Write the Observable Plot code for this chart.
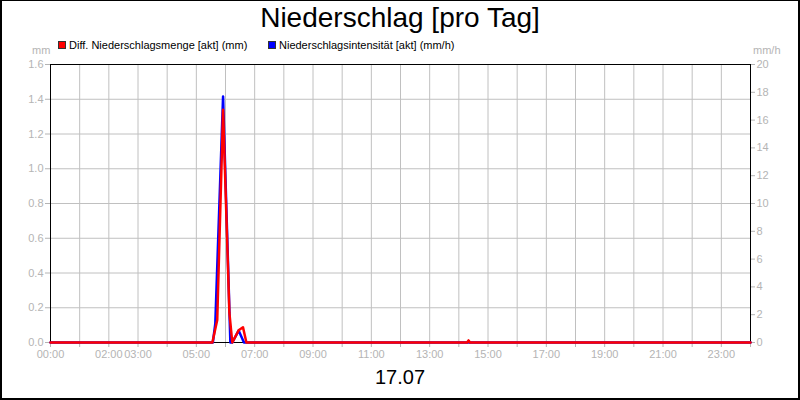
<!DOCTYPE html>
<html>
<head>
<meta charset="utf-8">
<script src="https://cdn.jsdelivr.net/npm/d3@7"></script>
<script src="https://cdn.jsdelivr.net/npm/@observablehq/plot@0.6"></script>
<style>
  html, body { margin: 0; padding: 0; background: #fff; }
  #wrap { position: relative; width: 800px; height: 400px; overflow: hidden; font-family: "Liberation Sans", Arial, sans-serif; background: #fff; }
  #border { position: absolute; left: 0; top: 0; width: 800px; height: 400px; box-sizing: border-box;
            border-top: 1px solid #000; border-left: 2px solid #000; border-right: 2px solid #000; border-bottom: 2px solid #000; pointer-events: none; }
  #title { position: absolute; left: 0; width: 800px; top: 2px; text-align: center; font-size: 28px; color: #000; line-height: 32px; }
  .leg { position: absolute; top: 38px; font-size: 11px; color: #000; line-height: 14px; white-space: nowrap; }
  .sw { display: inline-block; width: 8px; height: 8px; box-sizing: border-box; border: 1px solid #333; margin-right: 3px; vertical-align: -0px; }
  .unit { position: absolute; top: 43px; font-size: 11px; color: #b4b4b4; line-height: 14px; }
  #date { position: absolute; left: 0; width: 800px; top: 365px; text-align: center; font-size: 20px; color: #000; line-height: 24px; }
  #chart { position: absolute; left: 0; top: 0; }
</style>
</head>
<body>
<div id="wrap">
  <div id="chart"></div>
  <div id="title">Niederschlag [pro Tag]</div>
  <div class="leg" style="left:58px"><span class="sw" style="background:#ff0000"></span>Diff. Niederschlagsmenge [akt] (mm)</div>
  <div class="leg" style="left:268px"><span class="sw" style="background:#0000ff"></span>Niederschlagsintensität [akt] (mm/h)</div>
  <div class="unit" style="left:32px">mm</div>
  <div class="unit" style="left:753px">mm/h</div>
  <div id="date">17.07</div>
  <div id="border"></div>
</div>
<script>
// ---- data ----
const mengeTimes  = ["00:00","05:33","05:43","05:55","06:08","06:14","06:27","06:36","06:43","14:17","14:20","14:23","24:00"];
const mengeValues = [0, 0, 0.13, 1.34, 0.17, 0, 0.07, 0.088, 0, 0, 0.012, 0, 0];

const intensTimes  = ["00:00","05:34","05:39","05:55","06:10","06:14","06:27","06:38","24:00"];
const intensValues = [0, 0, 1.35, 17.7, 0, 0, 0.86, 0, 0];

const xTickHours   = [0,1,2,3,4,5,6,7,8,9,10,11,12,13,14,15,16,17,18,19,20,21,22,23,24];
const xLabelHours  = [0,2,3,5,7,9,11,13,15,17,19,21,23];
const leftTicks    = [0,0.2,0.4,0.6,0.8,1.0,1.2,1.4,1.6];
const rightTicks   = [0,2,4,6,8,10,12,14,16,18,20];
const leftMax = 1.6, rightMax = 20;

// ---- helpers ----
const base = Date.UTC(2024, 6, 17);
const toDate = s => { const [h, m] = s.split(":").map(Number); return new Date(base + (h * 60 + m) * 60000); };
const hourDate = h => new Date(base + h * 3600000);
const ratio = leftMax / rightMax;

const menge  = mengeTimes.map((t, i) => ({t: toDate(t), v: mengeValues[i]}));
const intens = intensTimes.map((t, i) => ({t: toDate(t), v: intensValues[i] * ratio}));

const grey = "#b4b4b4";
const fmtH = d => String(d.getUTCHours()).padStart(2, "0") + ":00";

const chart = Plot.plot({
  width: 800, height: 400,
  marginLeft: 50, marginRight: 50, marginTop: 64, marginBottom: 58,
  style: {fontFamily: "'Liberation Sans', Arial, sans-serif", fontSize: "11px", background: "transparent", overflow: "visible"},
  x: {type: "utc", domain: [hourDate(0), hourDate(24)]},
  y: {domain: [0, leftMax]},
  marks: [
    Plot.gridX(xTickHours.map(hourDate), {stroke: "#c0c0c0", strokeOpacity: 1}),
    Plot.gridY(leftTicks, {stroke: "#c0c0c0", strokeOpacity: 1}),
    Plot.axisX({ticks: xTickHours.map(hourDate), tickSize: 5, tickPadding: 3, color: grey, label: null,
      tickFormat: d => (d.getUTCDate() === 17 && xLabelHours.includes(d.getUTCHours())) ? fmtH(d) : ""}),
    Plot.axisY({ticks: leftTicks, anchor: "left", tickSize: 5, tickPadding: 2, color: grey, label: null,
      tickFormat: d => d.toFixed(1)}),
    Plot.axisY({ticks: rightTicks.map(v => v * ratio), anchor: "right", tickSize: 4, tickPadding: 2, color: grey, label: null,
      tickFormat: d => String(Math.round(d / ratio))}),
    Plot.frame({stroke: "#000"}),
    Plot.lineY(intens, {x: "t", y: "v", stroke: "#0000ff", strokeWidth: 2.5}),
    Plot.lineY(menge, {x: "t", y: "v", stroke: "#ff0000", strokeWidth: 2.5})
  ]
});
document.getElementById("chart").appendChild(chart);
</script>
</body>
</html>
